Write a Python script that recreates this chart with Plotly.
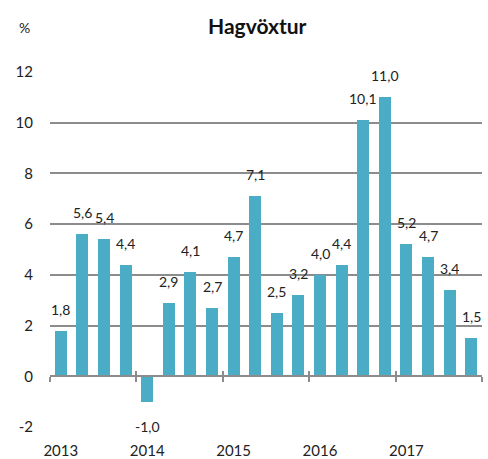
import plotly.graph_objects as go

quarters = list(range(20))
values = [1.8, 5.6, 5.4, 4.4, -1.0, 2.9, 4.1, 2.7, 4.7, 7.1, 2.5, 3.2, 4.0, 4.4, 10.1, 11.0, 5.2, 4.7, 3.4, 1.5]
year_labels = ["2013", "2014", "2015", "2016", "2017"]
year_ticks = [0, 4, 8, 12, 16]
year_bounds = [-0.5, 3.5, 7.5, 11.5, 15.5, 19.5]
y_ticks = [-2, 0, 2, 4, 6, 8, 10, 12]
y_tick_labels = ["-2", "0", "2", "4", "6", "8", "10", "12"]

FONT = "Lato"
BAR = "#4BACC6"
GRID = "#8c8c8c"

fig = go.Figure()
fig.add_trace(go.Bar(x=quarters, y=values, marker_color=BAR, width=0.56,
                     marker_line_width=0, hoverinfo="skip"))

annotations = []
for x, v in zip(quarters, values):
    annotations.append(dict(
        x=x, y=v, xref="x", yref="y",
        text=f"{v:.1f}".replace(".", ","), showarrow=False,
        yanchor="bottom" if v >= 0 else "top",
        yshift=11 if v >= 0 else -14,
        font=dict(family=FONT, size=14, color="#222222"),
    ))
annotations.append(dict(x=0.48, y=1.132, xref="paper", yref="paper", text="<b>Hagvöxtur</b>",
                        showarrow=False, xanchor="center", yanchor="middle",
                        font=dict(family=FONT, size=21, color="#111111")))
annotations.append(dict(x=-0.06, y=1.124, xref="paper", yref="paper", text="%",
                        showarrow=False, xanchor="center", yanchor="middle",
                        font=dict(family=FONT, size=14, color="#222222")))

zero_pos = (0 - (-2)) / 14

axis_common = dict(range=[-0.5, 19.5], tickvals=year_bounds, showticklabels=False,
                   showgrid=False, zeroline=False, anchor="free", position=zero_pos,
                   overlaying="x", showline=True, linecolor=GRID, linewidth=1.5,
                   ticklen=5, tickwidth=1.5, tickcolor=GRID, fixedrange=True)

fig.update_layout(
    width=488, height=459,
    margin=dict(l=50, r=6, t=72, b=32, autoexpand=False),
    paper_bgcolor="white", plot_bgcolor="white",
    showlegend=False,
    bargap=0,
    annotations=annotations,
    font=dict(family=FONT, size=15, color="#222222"),
    xaxis=dict(range=[-0.5, 19.5], tickvals=year_ticks, ticktext=year_labels,
               showgrid=False, zeroline=False, showline=False, ticks="",
               ticklabelstandoff=13, automargin=False,
               tickfont=dict(family=FONT, size=15, color="#222222")),
    xaxis2=dict(ticks="outside", **axis_common),
    xaxis3=dict(ticks="inside", **axis_common),
    yaxis=dict(range=[-2, 12], tickvals=y_ticks, ticktext=y_tick_labels, showgrid=True,
               gridcolor=GRID, gridwidth=1.5,
               zeroline=False, showline=False, ticks="", ticklabelstandoff=16, automargin=False,
               tickfont=dict(family=FONT, size=15, color="#222222")),
)
fig.add_trace(go.Scatter(x=[None], y=[None], xaxis="x2", showlegend=False, hoverinfo="skip"))
fig.add_trace(go.Scatter(x=[None], y=[None], xaxis="x3", showlegend=False, hoverinfo="skip"))

fig.write_html("out.html", config={"displayModeBar": False},
               post_script="document.body.style.margin='0';")
